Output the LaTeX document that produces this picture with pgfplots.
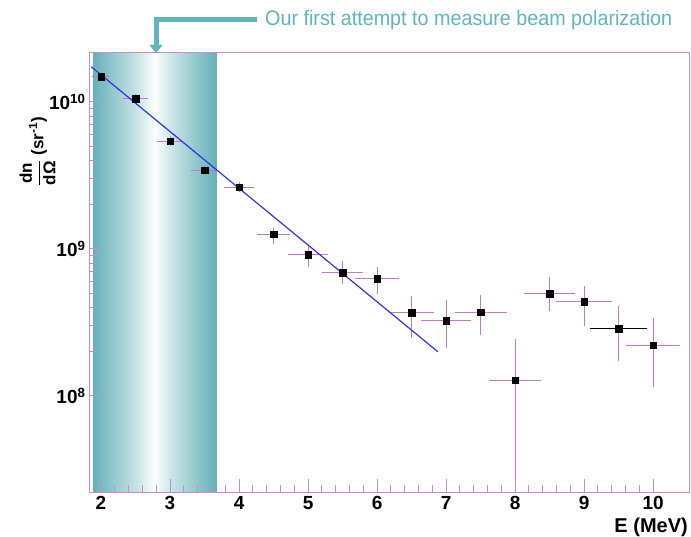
\documentclass[border=0pt]{standalone}
\usepackage{pgfplots}
\pgfplotsset{compat=1.18}
\usepackage{pgfplotstable}
\usepackage{fontspec}
\setmainfont{Liberation Sans}
\usepackage{graphicx}

\definecolor{axpink}{RGB}{200,140,205}
\definecolor{errpink}{RGB}{195,120,200}
\definecolor{bandc}{RGB}{100,178,184}
\definecolor{arrowc}{RGB}{96,180,188}
\definecolor{fitblue}{RGB}{50,50,230}

\pgfplotstableread{
x y exl exr eyp eym
2.0 1.48e10 0.10 0.10 4e8 4e8
2.5 1.05e10 0.15 0.15 3e8 3e8
3.0 5.4e9 0.15 0.15 2e8 2e8
3.5 3.44e9 0.16 0.16 1.5e8 1.5e8
4.0 2.63e9 0.18 0.18 1e8 1e8
4.5 1.26e9 0.20 0.20 0.7e8 1.4e8
5.0 9.1e8 0.25 0.25 0.9e8 1.32e8
5.5 6.87e8 0.26 0.26 1.03e8 0.9e8
6.0 6.25e8 0.28 0.28 0.94e8 1.08e8
6.5 3.67e8 0.29 0.29 0.9e8 1.11e8
7.0 3.24e8 0.33 0.33 1.06e8 1.05e8
7.5 3.72e8 0.34 0.34 0.93e8 1.03e8
8.0 1.28e8 0.34 0.34 1.05e8 1.18e8
8.5 4.94e8 0.33 0.33 1.21e8 1.03e8
9.0 4.37e8 0.37 0.37 0.98e8 1.28e8
9.5 2.86e8 0.38 0.38 1.05e8 1.07e8
10.0 2.22e8 0.35 0.35 1.02e8 1.03e8
}\data

\pgfplotstableread{
x y exl exr
9.5 2.86e8 0.38 0.38
}\blackpt

\begin{document}
\begin{tikzpicture}
\useasboundingbox (0,0) rectangle (691pt,537pt);
% gradient band (background decoration), 62 strips of 2pt
\foreach \i in {0,...,61}{
  \pgfmathsetmacro{\t}{abs((\i+0.5-31)/31)}
  \pgfmathsetmacro{\p}{100*(\t)^0.85}
  \pgfmathsetmacro{\xa}{93+2*\i}
  \pgfmathsetmacro{\xb}{93+2*\i+2.3}
  \fill[bandc!\p!white] (\xa pt,44pt) rectangle (\xb pt,484pt);
}
\begin{axis}[
  at={(89pt,44pt)}, anchor=south west,
  scale only axis, width=600pt, height=440pt,
  xmin=1.826, xmax=10.52,
  ymode=log, ymin=2.19e7, ymax=2.15e10,
  xtick={2,3,4,5,6,7,8,9,10},
  xticklabels={2,3,4,5,6,7,8,9,10},
  minor x tick num=4,
  ytick={1e8,1e9,1e10},
  yticklabels={10\textsuperscript{8},10\textsuperscript{9},10\textsuperscript{10}},
  tick pos=left,
  axis line style={axpink, line width=1pt},
  tick style={axpink, line width=1pt},
  major tick length=14pt, minor tick length=8pt,
  tick label style={font=\fontsize{19}{22}\selectfont\bfseries},
  axis on top,
]
\addplot[only marks, mark=square*, mark size=3.3pt, black,
  error bars/.cd, x dir=both, x explicit, y dir=both, y explicit,
  error bar style={errpink, line width=1pt},
  error mark options={errpink, mark size=2.5pt, line width=1pt}]
  table[x=x, y=y, x error plus=exr, x error minus=exl, y error plus=eyp, y error minus=eym]{\data};

\addplot[only marks, mark=square*, mark size=3.3pt, black,
  error bars/.cd, x dir=both, x explicit,
  error bar style={black, line width=1pt},
  error mark options={black, mark size=2.5pt, line width=1pt}]
  table[x=x, y=y, x error plus=exr, x error minus=exl]{\blackpt};

\addplot[fitblue, line width=1.2pt] coordinates {(1.86,1.73e10) (6.88,2.0e8)};
\end{axis}

% y label
\node[rotate=90, font=\fontsize{17}{20}\selectfont\bfseries] at (37.5pt,385.5pt)
  {$\displaystyle\frac{\hbox{dn}}{\hbox{dΩ}}$ (sr\textsuperscript{-1})};
% x label
\node[anchor=base east, inner sep=0, font=\fontsize{20}{24}\selectfont\bfseries] at (688pt,4pt) {E (MeV)};

% annotation arrow
\draw[arrowc, line width=5pt, line join=miter] (257pt,517pt) -- (156pt,517pt) -- (156pt,490pt);
\fill[arrowc] (149.5pt,492pt) -- (162.5pt,492pt) -- (156pt,484pt) -- cycle;
\node[anchor=base west, inner sep=0, text=arrowc] at (265pt,511pt)
  {\resizebox{407pt}{\height}{\fontsize{21}{24}\selectfont Our first attempt to measure beam polarization}};
\end{tikzpicture}
\end{document}
